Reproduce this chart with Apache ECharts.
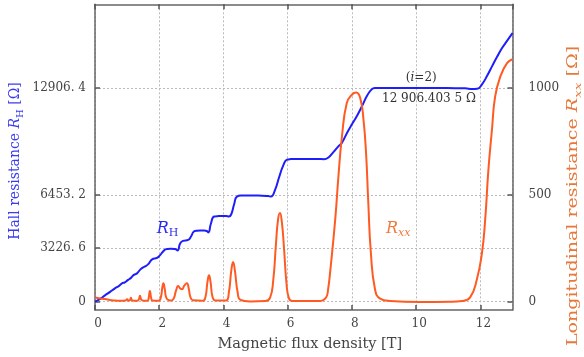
<!DOCTYPE html>
<html><head><meta charset="utf-8">
<script src="https://cdn.jsdelivr.net/npm/echarts@6/dist/echarts.min.js"></script>
<style>html,body{margin:0;padding:0;background:#fff}#c{width:584px;height:357px}</style>
</head><body><div id="c"></div>
<script>
// Hall resistance R_H (Ohm) vs magnetic flux density B (T)
const hallB = [0,0.16,0.31,0.47,0.62,0.75,0.84,0.93,1.03,1.12,1.21,1.31,1.40,1.50,1.56,1.65,1.78,1.93,2.02,2.15,2.24,2.36,2.49,2.57,2.65,2.74,2.90,2.99,3.08,3.18,3.27,3.40,3.48,3.53,3.61,3.71,3.85,3.96,4.08,4.17,4.24,4.33,4.42,4.58,4.80,4.98,5.20,5.39,5.48,5.61,5.73,5.86,5.98,6.10,6.23,6.50,6.70,6.95,7.13,7.26,7.41,7.57,7.69,7.85,8.01,8.16,8.32,8.47,8.60,8.72,8.90,9.50,10.10,10.75,11.20,11.53,11.74,11.90,12.06,12.21,12.37,12.52,12.68,12.83,13.0];
const hallR = [0,169,380,591,802,953,1104,1164,1315,1435,1616,1707,1918,2069,2129,2250,2551,2642,2792,3094,3184,3190,3184,3094,3516,3667,3727,3938,4240,4290,4300,4300,4270,4180,4720,5145,5170,5175,5170,5145,5265,5870,6350,6410,6420,6410,6405,6380,6350,6775,7500,8220,8580,8615,8624,8624,8624,8620,8610,8700,9005,9365,9605,10210,10750,11235,11840,12440,12800,12906,12906,12906,12906,12906,12904,12895,12846,12865,13165,13650,14250,14795,15340,15760,16225];
// Longitudinal resistance R_xx (Ohm) vs B (T)
const longB = [0,0.16,0.31,0.47,0.62,0.80,0.95,1.00,1.05,1.08,1.12,1.16,1.30,1.36,1.40,1.44,1.52,1.64,1.67,1.71,1.75,1.79,1.98,2.05,2.10,2.13,2.17,2.22,2.30,2.37,2.45,2.52,2.59,2.65,2.71,2.78,2.86,2.92,2.97,3.05,3.36,3.44,3.50,3.55,3.60,3.66,3.75,4.08,4.17,4.24,4.30,4.36,4.44,4.53,4.83,5.30,5.45,5.55,5.63,5.70,5.76,5.82,5.89,5.96,6.04,6.15,7.01,7.20,7.26,7.32,7.48,7.58,7.69,7.84,8.00,8.13,8.26,8.36,8.44,8.51,8.59,8.72,8.88,9.19,10.12,11.06,11.43,11.68,11.89,12.05,12.15,12.25,12.36,12.46,12.62,12.83,13.0];
const longR = [19,15,12,8,5,4,5,11,4,5,18,5,4,9,27,9,4,5,16,50,16,5,4,20,70,86,60,18,6,5,14,50,73,62,58,75,86,60,22,6,4,22,90,123,90,22,5,5,45,140,186,140,45,8,1,3,18,100,260,385,415,370,240,90,15,3,3,20,60,136,385,587,774,930,969,979,953,852,696,463,229,57,14,3,-2,-1,3,20,104,229,385,618,805,961,1054,1117,1135];
// axis ticks
const xTicks = [0,2,4,6,8,10,12];
const hallTicks = [0,3226.6,6453.2,12906.4];
const hallTickLabels = ['0','3226. 6','6453. 2','12906. 4'];
const longTicks = [0,500,1000];
const longTickLabels = ['0','500','1000'];

const BLUE = '#1e1efa', ORANGE = '#ff5a22';
const FONT = 'DejaVu Serif';
const zip = (a, b) => a.map((v, i) => [v, b[i]]);

const chart = echarts.init(document.getElementById('c'), null, {renderer: 'canvas'});
const frame = {show: true, onZero: false, lineStyle: {color: '#666', width: 1.5}};
const tick = {show: true, inside: true, length: 5, lineStyle: {color: '#555', width: 1.5}};
const grid = {type: [2, 2], color: '#bbb', width: 1};

chart.setOption({
  animation: false,
  backgroundColor: '#fff',
  grid: {left: 95, right: 71.5, top: 4.3, bottom: 46.3, containLabel: false},
  xAxis: [{
    type: 'value', position: 'bottom', min: 0, max: 13, interval: 2,
    axisLine: frame, axisTick: tick,
    splitLine: {show: true, lineStyle: grid},
    axisLabel: {show: true, margin: 8, color: '#444', fontFamily: FONT, fontSize: 12, padding: [0, 0, 0, 6],
      showMaxLabel: false, formatter: v => xTicks.includes(v) ? String(v) : ''},
    name: 'Magnetic flux density [T]', nameLocation: 'middle', nameGap: 27,
    nameTextStyle: {color: '#444', fontFamily: FONT, fontSize: 14.5, padding: [0, 0, 0, 12]}
  }, {
    type: 'value', position: 'top', min: 0, max: 13, interval: 2,
    axisLine: frame, axisTick: tick, splitLine: {show: false}, axisLabel: {show: false}
  }],
  yAxis: [{
    type: 'value', position: 'left', min: -507, max: 17972,
    axisLine: frame,
    axisTick: Object.assign({customValues: hallTicks}, tick),
    splitLine: {show: true, lineStyle: grid},
    axisLabel: {customValues: hallTicks, margin: 9, color: '#444', fontFamily: FONT, fontSize: 12,
      formatter: v => { const i = hallTicks.indexOf(v); return i >= 0 ? hallTickLabels[i] : ''; }}
  }, {
    type: 'value', position: 'right', min: -39.3, max: 1392.6,
    axisLine: frame,
    axisTick: Object.assign({customValues: longTicks}, tick),
    splitLine: {show: false},
    axisLabel: {customValues: longTicks, margin: 16, color: '#444', fontFamily: FONT, fontSize: 12,
      formatter: v => { const i = longTicks.indexOf(v); return i >= 0 ? longTickLabels[i] : ''; }}
  }],
  series: [{
    type: 'line', name: 'RH', xAxisIndex: 0, yAxisIndex: 0, data: zip(hallB, hallR),
    showSymbol: false, smooth: 0.5,
    lineStyle: {color: BLUE, width: 2}, z: 3
  }, {
    type: 'line', name: 'Rxx', xAxisIndex: 0, yAxisIndex: 1, data: zip(longB, longR),
    showSymbol: false, smooth: 0.5,
    lineStyle: {color: ORANGE, width: 2}, z: 4
  }]
});

const pH = chart.convertToPixel({seriesIndex: 0}, [2.26, 4421]);
const pX = chart.convertToPixel({seriesIndex: 1}, [9.44, 342]);
const pI = chart.convertToPixel({seriesIndex: 0}, [10.16, 13527]);
const pV = chart.convertToPixel({seriesIndex: 0}, [10.40, 12261]);
const sub = {fontSize: 10, fontFamily: FONT, verticalAlign: 'bottom', lineHeight: 10};

chart.setOption({
  graphic: [
    {type: 'text', x: 15, y: 161, rotation: Math.PI / 2, style: {
      text: 'Hall resistance {i|R}{s|H} [Ω]', fill: '#3a3af0', font: '14px "DejaVu Serif"',
      align: 'center', verticalAlign: 'middle', lineHeight: 20,
      rich: {i: {fontStyle: 'italic', fontSize: 14, fontFamily: FONT, fill: '#3a3af0', lineHeight: 20},
             s: Object.assign({fill: '#3a3af0'}, sub)}}},
    {type: 'text', x: 573, y: 196, rotation: Math.PI / 2, scaleX: 1.36, style: {
      text: 'Longitudinal resistance {i|R}{s|xx} [Ω]', fill: '#e8783a', font: '14px "DejaVu Serif"',
      align: 'center', verticalAlign: 'middle', lineHeight: 20,
      rich: {i: {fontStyle: 'italic', fontSize: 14, fontFamily: FONT, fill: '#e8783a', lineHeight: 20},
             s: Object.assign({fill: '#e8783a', fontStyle: 'italic'}, sub)}}},
    {type: 'text', x: pH[0], y: pH[1], style: {
      text: '{i|R}{s|H}', align: 'center', verticalAlign: 'middle', lineHeight: 20,
      rich: {i: {fontStyle: 'italic', fontSize: 16, fontFamily: FONT, fill: '#2a2af0', lineHeight: 20},
             s: Object.assign({fill: '#2a2af0'}, sub, {fontSize: 11, lineHeight: 11})}}},
    {type: 'text', x: pX[0], y: pX[1], style: {
      text: '{i|R}{s|xx}', align: 'center', verticalAlign: 'middle', lineHeight: 20,
      rich: {i: {fontStyle: 'italic', fontSize: 16, fontFamily: FONT, fill: '#f07a3a', lineHeight: 20},
             s: Object.assign({fill: '#f07a3a', fontStyle: 'italic'}, sub, {fontSize: 11, lineHeight: 11})}}},
    {type: 'text', x: pI[0], y: pI[1], style: {
      text: '({i|i}=2)', fill: '#333', font: '12px "DejaVu Serif"', align: 'center', verticalAlign: 'middle',
      rich: {i: {fontStyle: 'italic', fontSize: 12, fontFamily: FONT, fill: '#333'}}}},
    {type: 'text', x: pV[0], y: pV[1], style: {
      text: '12 906.403 5 Ω', fill: '#333', font: '12px "DejaVu Serif"', align: 'center', verticalAlign: 'middle'}}
  ]
});
</script>
</body></html>
